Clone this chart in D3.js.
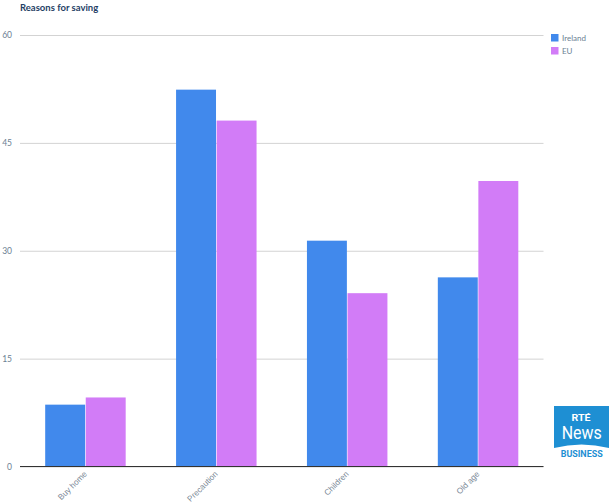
<!DOCTYPE html>
<html>
<head>
<meta charset="utf-8">
<script src="https://cdn.jsdelivr.net/npm/d3@7"></script>
<style>
  html, body { margin: 0; padding: 0; background: #fff; }
  svg { display: block; font-family: Lato, "Open Sans", sans-serif; }
</style>
</head>
<body>
<svg id="chart" width="614" height="503"></svg>
<script>
const categories = ["Buy home", "Precaution", "Children", "Old age"];
const seriesNames = ["Ireland", "EU"];
const irelandValues = [8.6, 52.4, 31.4, 26.3];
const euValues = [9.6, 48.1, 24.1, 39.7];
const yTicks = [0, 15, 30, 45, 60];
const colors = ["#4189ec", "#d27cf7"];
const titleText = "Reasons for saving";

const svg = d3.select("#chart");
const plotLeft = 20, plotRight = 543.5, plotTop = 35, plotBottom = 466.5;

const x = d3.scaleBand().domain(categories).range([plotLeft, plotRight])
  .paddingInner(0.385).paddingOuter(0.1925);
const xs = d3.scaleBand().domain(seriesNames).range([0, x.bandwidth()]).paddingInner(0.015);
const y = d3.scaleLinear().domain([0, 60]).range([plotBottom, plotTop]);

// gridlines
const grid = svg.append("g").attr("transform", `translate(${plotLeft},0)`)
  .call(d3.axisLeft(y).tickValues(yTicks).tickSize(-(plotRight - plotLeft)).tickFormat(""));
grid.select(".domain").remove();
grid.selectAll("line").attr("stroke", "#d3d3d3").attr("stroke-width", 1);

// y labels
const yl = svg.append("g").attr("transform", `translate(12,0)`)
  .call(d3.axisLeft(y).tickValues(yTicks).tickSize(0).tickPadding(0));
yl.select(".domain").remove();
yl.selectAll("text").attr("fill", "#6b7f93").attr("font-size", 8.5)
  .attr("font-family", "Lato, sans-serif");

// bars
const data = categories.map((c, i) => ({ cat: c, vals: [irelandValues[i], euValues[i]] }));
const groups = svg.append("g").selectAll("g").data(data).join("g")
  .attr("transform", d => `translate(${x(d.cat)},0)`);
groups.selectAll("rect").data(d => d.vals.map((v, j) => ({ name: seriesNames[j], v, j })))
  .join("rect")
  .attr("x", d => xs(d.name))
  .attr("width", xs.bandwidth())
  .attr("y", d => y(d.v))
  .attr("height", d => y(0) - y(d.v))
  .attr("fill", d => colors[d.j]);

// x axis
const xa = svg.append("g").attr("transform", `translate(0,${plotBottom})`)
  .call(d3.axisBottom(x).tickSize(0).tickPadding(0));
xa.select(".domain").attr("stroke", "#333").attr("stroke-width", 1.2)
  .attr("d", `M${plotLeft},0H${plotRight}`);
xa.selectAll("text")
  .attr("fill", "#7a8896").attr("font-size", 8.2)
  .attr("text-anchor", "end")
  .attr("dy", 0)
  .attr("transform", "translate(2,8) rotate(-45)");

// title
svg.append("text").attr("x", 20).attr("y", 11).text(titleText)
  .attr("font-size", 9.5).attr("font-weight", 700).attr("fill", "#1f3f66");

// legend
const lg = svg.append("g").attr("transform", "translate(551,34)");
seriesNames.forEach((n, i) => {
  lg.append("rect").attr("x", 0).attr("y", i * 13).attr("width", 7.5).attr("height", 7.5)
    .attr("fill", colors[i]);
  lg.append("text").attr("x", 11).attr("y", i * 13 + 7).text(n)
    .attr("font-size", 8).attr("fill", "#6b7f93");
});

// logo
const logo = svg.append("g").attr("transform", "translate(554,406)");
logo.append("path")
  .attr("d", "M0,0H55V42Q27.5,35 0,42Z")
  .attr("fill", "#1e8fd3");
logo.append("text").attr("x", 27).attr("y", 15.3).attr("text-anchor", "middle")
  .attr("font-size", 9).attr("font-weight", 700).attr("fill", "#fff")
  .attr("textLength", 19).attr("lengthAdjust", "spacingAndGlyphs")
  .attr("font-family", "Roboto, Arial, sans-serif").text("RTÉ");
logo.append("text").attr("x", 27.7).attr("y", 33.3).attr("text-anchor", "middle")
  .attr("font-size", 18).attr("fill", "#fff")
  .attr("textLength", 40).attr("lengthAdjust", "spacingAndGlyphs")
  .attr("font-family", "Roboto, Arial, sans-serif").text("News");
logo.append("text").attr("x", 27.7).attr("y", 51).attr("text-anchor", "middle")
  .attr("font-size", 8.5).attr("font-weight", 700).attr("fill", "#1e8fd3")
  .attr("textLength", 42).attr("lengthAdjust", "spacingAndGlyphs")
  .attr("font-family", "Roboto, Arial, sans-serif").text("BUSINESS");
</script>
</body>
</html>
